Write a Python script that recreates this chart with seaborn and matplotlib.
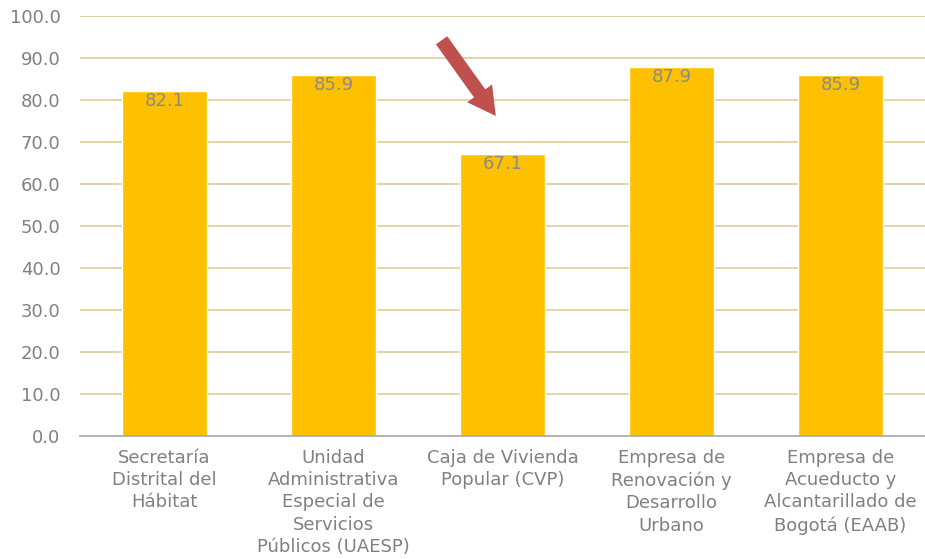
import pandas as pd
import matplotlib
matplotlib.use("Agg")
import matplotlib.pyplot as plt
import seaborn as sns

# data
entidades = [
    "Secretaría\nDistrital del\nHábitat",
    "Unidad\nAdministrativa\nEspecial de\nServicios\nPúblicos (UAESP)",
    "Caja de Vivienda\nPopular (CVP)",
    "Empresa de\nRenovación y\nDesarrollo\nUrbano",
    "Empresa de\nAcueducto y\nAlcantarillado de\nBogotá (EAAB)",
]
puntajes = [82.1, 85.9, 67.1, 87.9, 85.9]
y_ticks = [0, 10, 20, 30, 40, 50, 60, 70, 80, 90, 100]

df = pd.DataFrame({"entidad": entidades, "puntaje": puntajes})

sns.set_style("white")
plt.rcParams["font.family"] = ["DejaVu Sans"]

fig = plt.figure(figsize=(9.25, 5.59), dpi=100)
ax = fig.add_axes([0.0865, 0.22, 0.9135, 0.751])

for t in y_ticks[1:]:
    ax.axhline(t, color="#e2d4a8", lw=1.4, zorder=0)

sns.barplot(data=df, x="entidad", y="puntaje", color="#FFC000",
            width=0.5, saturation=1, ax=ax, zorder=2)

for i, v in enumerate(puntajes):
    ax.text(i, v - 2.4, f"{v:.1f}", ha="center", va="center",
            fontsize=13, color="#8a8a8a", zorder=3)

# red arrow pointing at CVP
ax.annotate("", xy=(1.97, 75.7), xytext=(1.63, 94.8),
            arrowprops=dict(arrowstyle="simple,head_width=2.2,head_length=2.0,tail_width=1.0",
                            color="#C0504D", lw=0), zorder=4)

ax.set_ylim(0, 100)
ax.set_xlim(-0.5, 4.5)
ax.set_yticks(y_ticks)
ax.set_yticklabels([f"{t:.1f}" for t in y_ticks], fontsize=13, color="#808080")
ax.tick_params(axis="x", labelsize=13, labelcolor="#808080", length=0, pad=9)
ax.tick_params(axis="y", length=0, pad=14)
for lab in ax.get_xticklabels():
    lab.set_linespacing(1.32)
ax.set_xlabel("")
ax.set_ylabel("")
for s in ["top", "right", "left"]:
    ax.spines[s].set_visible(False)
ax.spines["bottom"].set_color("#a6a6a6")
ax.spines["bottom"].set_linewidth(1.2)
ax.spines["bottom"].set_zorder(3)

fig.savefig("out.png", dpi=100)
